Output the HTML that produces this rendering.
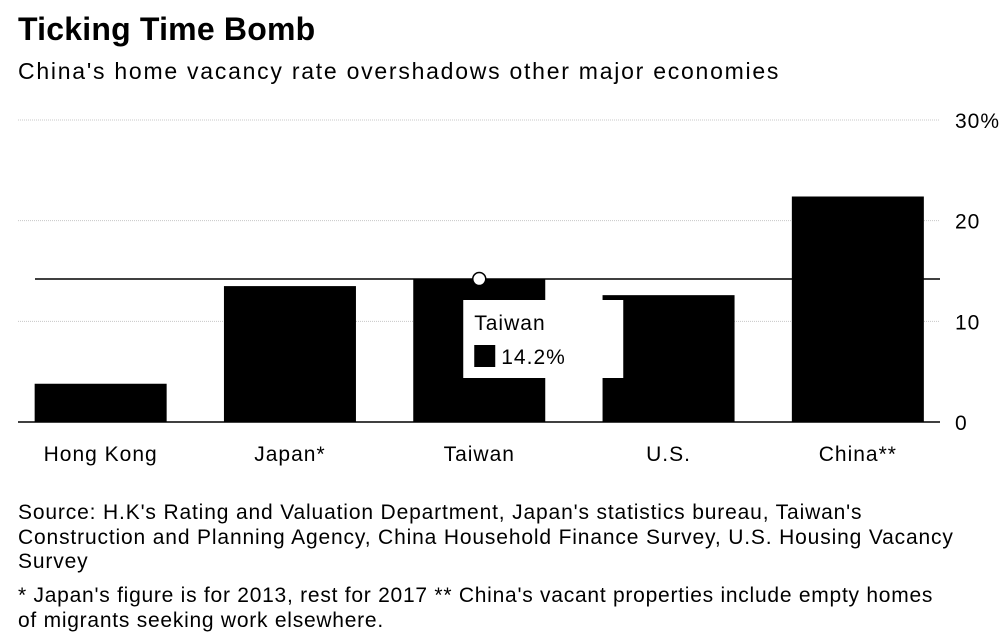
<!DOCTYPE html>
<html><head><meta charset="utf-8"><style>
body{margin:0;width:1008px;height:641px;background:#fff;font-family:"Liberation Sans",sans-serif;overflow:hidden;position:relative}
.t{position:absolute;left:18px;top:11px;font-size:32px;font-weight:bold;color:#000;letter-spacing:0.2px}
.s{position:absolute;left:18px;top:58px;font-size:23px;color:#000;letter-spacing:1.75px}
.src{position:absolute;left:18px;top:501px;font-size:21px;line-height:24.5px;color:#000;width:990px;letter-spacing:0.85px;white-space:nowrap}
.note{position:absolute;left:18px;top:584px;font-size:21px;line-height:24.5px;color:#000;width:990px;letter-spacing:0.75px;white-space:nowrap}
svg{position:absolute;left:0;top:0}
svg text{letter-spacing:1px}
</style></head><body>
<div class="t">Ticking Time Bomb</div>
<div class="s">China's home vacancy rate overshadows other major economies</div>
<svg id="c" width="1008" height="500"></svg>
<div class="src">Source: H.K's Rating and Valuation Department, Japan's statistics bureau, Taiwan's<br>Construction and Planning Agency, China Household Finance Survey, U.S. Housing Vacancy<br>Survey</div>
<div class="note">* Japan's figure is for 2013, rest for 2017 ** China's vacant properties include empty homes<br>of migrants seeking work elsewhere.</div>
<script>
const categories=["Hong Kong","Japan*","Taiwan","U.S.","China**"];
const values=[3.8,13.5,14.2,12.6,22.4];
const ticks=[0,10,20,30];
const tickLabels=["0","10","20","30%"];
const hoverIndex=2;
const NS="http://www.w3.org/2000/svg";
const svg=document.getElementById('c');
const x0=18,step=189.3,bw=132,y0=422,ppu=(422-120)/30;
const y=v=>y0-v*ppu;
const xc=i=>x0+step*(i+0.5)-12;
function mk(t,a){const e=document.createElementNS(NS,t);for(const k in a)e.setAttribute(k,a[k]);svg.appendChild(e);return e;}
ticks.forEach((t,i)=>{
 if(t>0){const l=mk('line',{x1:18,x2:940,y1:y(t),y2:y(t),stroke:'#c8c8c8','stroke-width':1,'stroke-dasharray':'1,1'});
 }
 const tx=mk('text',{x:955,y:y(t)+8,'font-size':21,fill:'#000'});tx.textContent=tickLabels[i];
 
});
values.forEach((v,i)=>{
 const r=mk('rect',{x:xc(i)-bw/2,y:y(v),width:bw,height:y0-y(v),fill:'#000'});
 
 
 const t=mk('text',{x:xc(i),y:461,'font-size':21,'text-anchor':'middle',fill:'#000'});t.textContent=categories[i];
 
});
const base=mk('line',{x1:18,x2:940,y1:y0,y2:y0,stroke:'#000','stroke-width':1.5});

const hv=values[hoverIndex];
const ch=mk('line',{x1:35,x2:940,y1:y(hv),y2:y(hv),stroke:'#000','stroke-width':1.5});

const cx=xc(hoverIndex);
const dot=mk('circle',{cx:cx,cy:y(hv),r:6.5,fill:'#fff',stroke:'#000','stroke-width':1.5});

const tb=mk('rect',{x:cx-16,y:300,width:160,height:78,fill:'#fff'});

const tt=mk('text',{x:cx-5,y:330,'font-size':21,fill:'#000'});tt.textContent=categories[hoverIndex].replace(/\*/g,'');

const sw=mk('rect',{x:cx-5,y:345,width:21,height:22,fill:'#000'});

const tv=mk('text',{x:cx+22,y:364,'font-size':21,fill:'#000'});tv.textContent=hv.toFixed(1)+'%';

</script>
</body></html>
